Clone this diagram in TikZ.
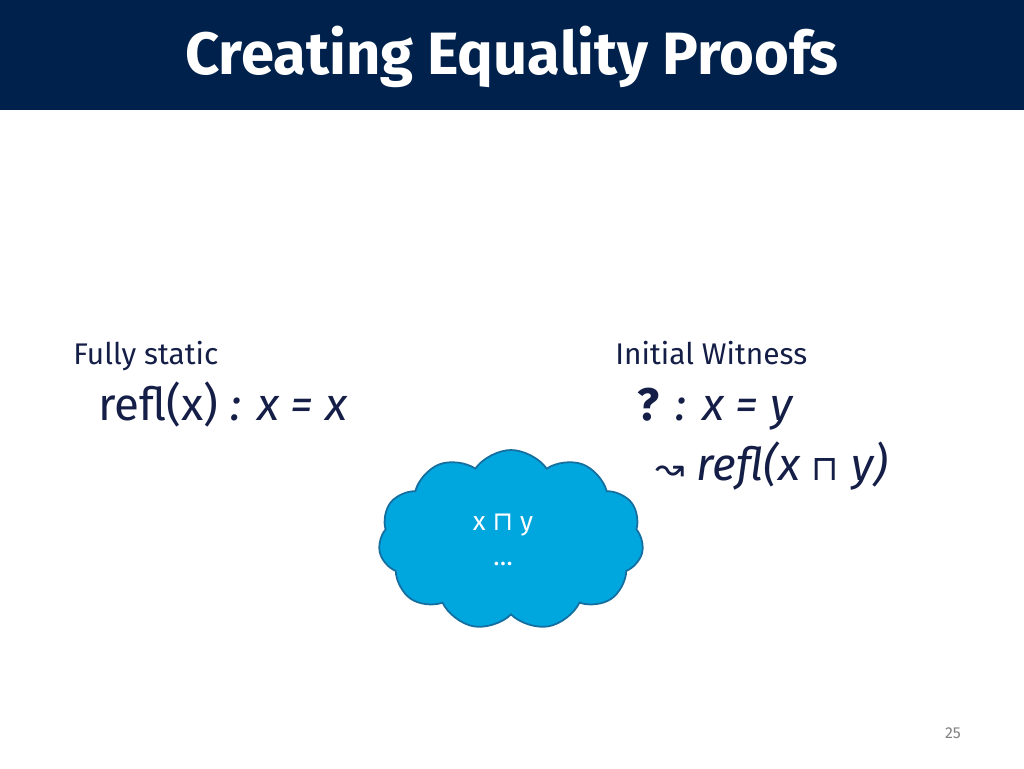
\documentclass[tikz,border=0pt]{standalone}
\usepackage{fontspec}
\setmainfont{Fira Sans}
\newfontfamily\symf{DejaVu Sans}
\usetikzlibrary{shapes.symbols}
\definecolor{navy}{RGB}{0,33,75}
\definecolor{textc}{RGB}{20,30,70}
\definecolor{cloudf}{RGB}{0,166,222}
\definecolor{clouddr}{RGB}{20,110,160}
\tikzset{lab/.style={anchor=base west,inner sep=0,text=textc,font=\fontsize{17}{20}\selectfont},
big/.style={anchor=base west,inner sep=0,text=textc,font=\fontsize{26}{30}\selectfont}}
\begin{document}
\begin{tikzpicture}[x=0.02cm,y=-0.02cm]
\useasboundingbox (0,0) rectangle (1024,768);
\fill[navy] (0,0) rectangle (1024,110);
\node[text=white,font=\fontsize{34}{40}\selectfont\bfseries] (title) at (512,57) {Creating Equality Proofs};
\node[lab] (fs) at (73,364) {Fully static};
\node[big] (refl) at (98,420) {refl(x) \textit{: x = x}};
\node[lab] (iw) at (615,364) {Initial Witness};
\node[big] (q) at (637,420) {\textbf{?} \textit{: x = y}};
\node[big] (r) at (655,480) {{\symf\fontsize{20}{24}\selectfont ↝} \textit{refl(x {\symf\upshape\fontsize{20}{24}\selectfont ⊓} y)}};
\node[cloud,cloud puffs=11,cloud puff arc=110,aspect=1.4,draw=clouddr,line width=1pt,fill=cloudf,minimum width=5.3cm,minimum height=3.6cm] (cl) at (511,540) {};
\node[text=white,font=\fontsize{15}{18}\selectfont,align=center] (ct) at (503,540) {x {\symf ⊓} y\\[2pt]…};
\node[text=gray,font=\fontsize{9}{11}\selectfont] (pg) at (953,733) {25};
\end{tikzpicture}
\end{document}
